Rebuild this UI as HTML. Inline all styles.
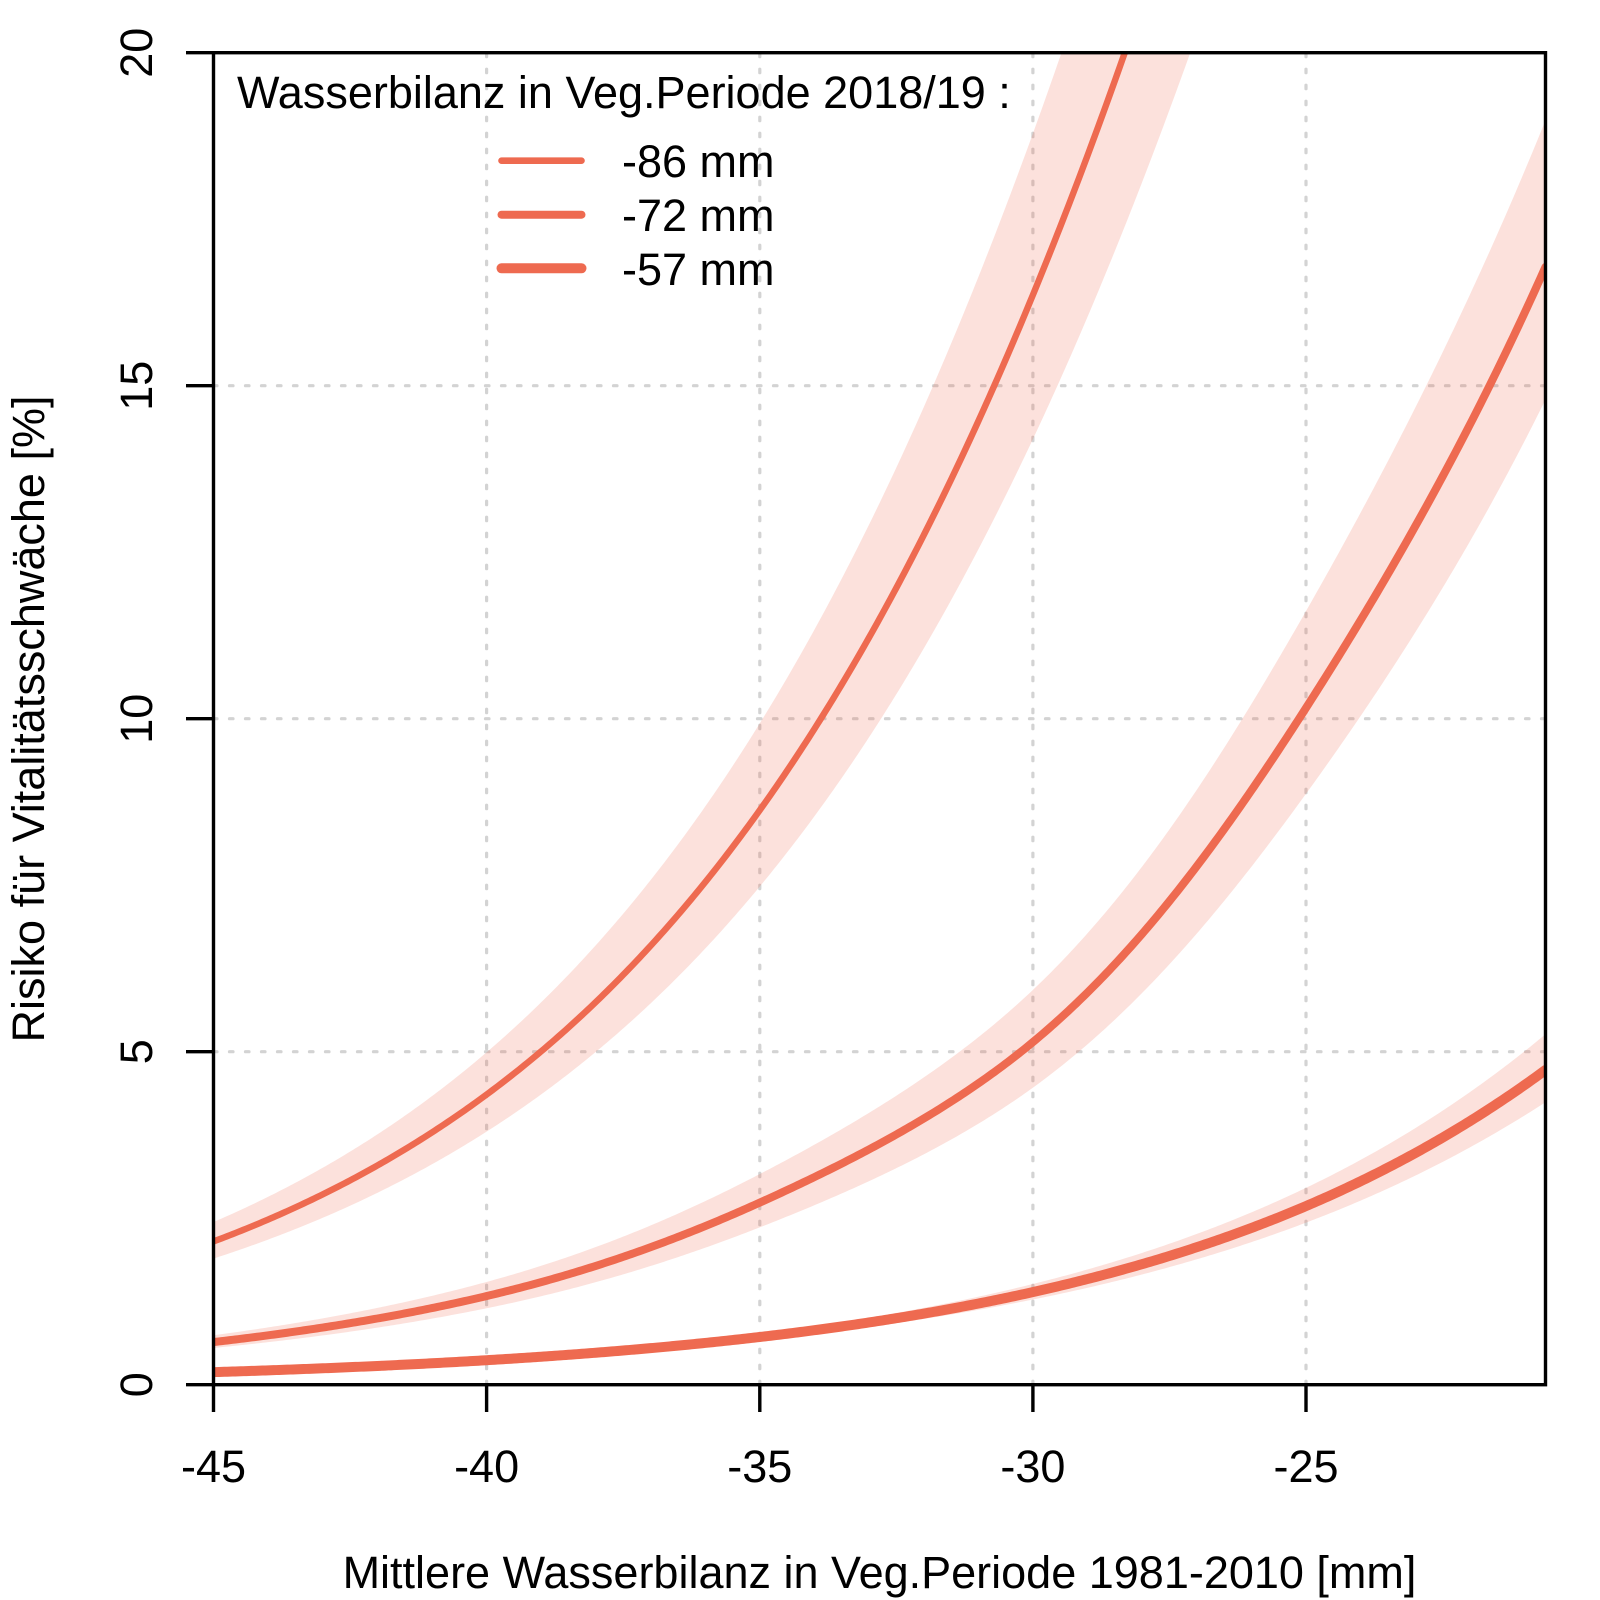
<!DOCTYPE html>
<html>
<head>
<meta charset="utf-8">
<style>
html,body{margin:0;padding:0;background:#fff;}
svg{display:block;}
text{font-family:"Liberation Sans",Arial,Helvetica,sans-serif;font-size:45px;fill:#000;}
</style>
</head>
<body>
<svg id="chart" width="1600" height="1600" viewBox="0 0 1600 1600" xmlns="http://www.w3.org/2000/svg">
  <rect x="0" y="0" width="1600" height="1600" fill="#fff"/>
  <defs>
    <clipPath id="plotclip">
      <rect x="213.5" y="52.7" width="1332" height="1332"/>
    </clipPath>
  </defs>

  <!-- grid -->
  <g stroke="#d3d3d3" stroke-width="3.2" stroke-dasharray="3.5 12.5" stroke-linecap="round" fill="none">
    <line x1="486.6" y1="1384.7" x2="486.6" y2="52.7"/>
    <line x1="759.8" y1="1384.7" x2="759.8" y2="52.7"/>
    <line x1="1032.9" y1="1384.7" x2="1032.9" y2="52.7"/>
    <line x1="1306" y1="1384.7" x2="1306" y2="52.7"/>
    <line x1="213.5" y1="1051.7" x2="1545.5" y2="1051.7"/>
    <line x1="213.5" y1="718.7" x2="1545.5" y2="718.7"/>
    <line x1="213.5" y1="385.7" x2="1545.5" y2="385.7"/>
  </g>

  <g clip-path="url(#plotclip)">
    <g id="bands" fill="#EE6A50" fill-opacity="0.2" stroke="none"></g>
    <g id="lines" fill="none" stroke="#EE6A50" stroke-linejoin="round" stroke-linecap="round"></g>
  </g>

  <!-- box -->
  <rect x="213.5" y="52.7" width="1332" height="1332" fill="none" stroke="#000" stroke-width="3.4"/>

  <!-- x ticks -->
  <g stroke="#000" stroke-width="3.4">
    <line x1="213.5" y1="1384.7" x2="213.5" y2="1412"/>
    <line x1="486.6" y1="1384.7" x2="486.6" y2="1412"/>
    <line x1="759.8" y1="1384.7" x2="759.8" y2="1412"/>
    <line x1="1032.9" y1="1384.7" x2="1032.9" y2="1412"/>
    <line x1="1306" y1="1384.7" x2="1306" y2="1412"/>
    <!-- y ticks -->
    <line x1="186" y1="1384.7" x2="213.5" y2="1384.7"/>
    <line x1="186" y1="1051.7" x2="213.5" y2="1051.7"/>
    <line x1="186" y1="718.7" x2="213.5" y2="718.7"/>
    <line x1="186" y1="385.7" x2="213.5" y2="385.7"/>
    <line x1="186" y1="52.7" x2="213.5" y2="52.7"/>
  </g>

  <!-- x tick labels -->
  <g text-anchor="middle">
    <text x="213.5" y="1482">-45</text>
    <text x="486.6" y="1482">-40</text>
    <text x="759.8" y="1482">-35</text>
    <text x="1032.9" y="1482">-30</text>
    <text x="1306" y="1482">-25</text>
  </g>

  <!-- y tick labels -->
  <g text-anchor="middle">
    <text transform="translate(152,1384.7) rotate(-90)">0</text>
    <text transform="translate(152,1051.7) rotate(-90)">5</text>
    <text transform="translate(152,718.7) rotate(-90)">10</text>
    <text transform="translate(152,385.7) rotate(-90)">15</text>
    <text transform="translate(152,52.7) rotate(-90)">20</text>
  </g>

  <!-- axis titles -->
  <text x="879.5" y="1588" text-anchor="middle">Mittlere Wasserbilanz in Veg.Periode 1981-2010 [mm]</text>
  <text transform="translate(44,719) rotate(-90)" text-anchor="middle">Risiko für Vitalitätsschwäche [%]</text>

  <!-- legend -->
  <text x="237" y="108">Wasserbilanz in Veg.Periode 2018/19 :</text>
  <g stroke="#EE6A50" stroke-linecap="round">
    <line x1="501.5" y1="160.7" x2="581.5" y2="160.7" stroke-width="6.6"/>
    <line x1="501.5" y1="214.7" x2="581.5" y2="214.7" stroke-width="8"/>
    <line x1="501.5" y1="268.3" x2="581.5" y2="268.3" stroke-width="10"/>
  </g>
  <text x="622" y="177">-86 mm</text>
  <text x="622" y="231">-72 mm</text>
  <text x="622" y="285">-57 mm</text>
</svg>

<script>
(function(){
  var X0=213.5, XS=54.6125, Y0=1384.7, YS=66.6;
  function px(x){return X0+(x+45)*XS;}
  function py(p){return Y0-p*100*YS;}
  function inv(l){return 1/(1+Math.exp(-l));}
  var XMAX=-20.61;

  function cr(xs,fs){
    return function(x){
      var n=xs.length, i=0;
      if(x<=xs[0]) i=0; else if(x>=xs[n-1]) i=n-2;
      else { while(i<n-2 && x>xs[i+1]) i++; }
      var x1=xs[i], x2=xs[i+1], f1=fs[i], f2=fs[i+1];
      var h=x2-x1, t=(x-x1)/h;
      var m1 = (i>0)? (fs[i+1]-fs[i-1])/(xs[i+1]-xs[i-1]) : (f2-f1)/h;
      var m2 = (i<n-2)? (fs[i+2]-fs[i])/(xs[i+2]-xs[i]) : (f2-f1)/h;
      var t2=t*t, t3=t2*t;
      return (2*t3-3*t2+1)*f1+(t3-2*t2+t)*h*m1+(-2*t3+3*t2)*f2+(t3-t2)*h*m2;
    };
  }

  var curves=[
    { f:function(x){return -1.632+0.1457*(x+30);},
      hw:function(x){return 0.13+0.0025*(x+45);}, w:6.4 },
    { f:cr([-45,-40,-35,-30,-25,-20.61],[-5.045,-4.306,-3.572,-2.915,-2.18,-1.601]),
      hw:function(x){return 0.15;}, w:8 },
    { f:function(x){return -4.262+0.134*(x+30);},
      hw:function(x){return Math.max(0.05,0.1+0.003*(x+25));}, w:10 }
  ];

  var NS="http://www.w3.org/2000/svg";
  var bands=document.getElementById('bands');
  var lines=document.getElementById('lines');
  curves.forEach(function(c){
    var up=[], lo=[], mid=[];
    for(var x=-45; x<=XMAX+1e-9; x+=0.05){
      var f=c.f(x), h=c.hw(x);
      mid.push(px(x).toFixed(2)+','+py(inv(f)).toFixed(2));
      up.push(px(x).toFixed(2)+','+py(inv(f+h)).toFixed(2));
      lo.push(px(x).toFixed(2)+','+py(inv(f-h)).toFixed(2));
    }
    var xe=XMAX, fe=c.f(xe), he=c.hw(xe);
    mid.push(px(xe).toFixed(2)+','+py(inv(fe)).toFixed(2));
    up.push(px(xe).toFixed(2)+','+py(inv(fe+he)).toFixed(2));
    lo.push(px(xe).toFixed(2)+','+py(inv(fe-he)).toFixed(2));
    var poly=document.createElementNS(NS,'polygon');
    poly.setAttribute('points', up.concat(lo.reverse()).join(' '));
    bands.appendChild(poly);
    var pl=document.createElementNS(NS,'polyline');
    pl.setAttribute('points', mid.join(' '));
    pl.setAttribute('stroke-width', c.w);
    lines.appendChild(pl);
  });
})();
</script>
</body>
</html>
